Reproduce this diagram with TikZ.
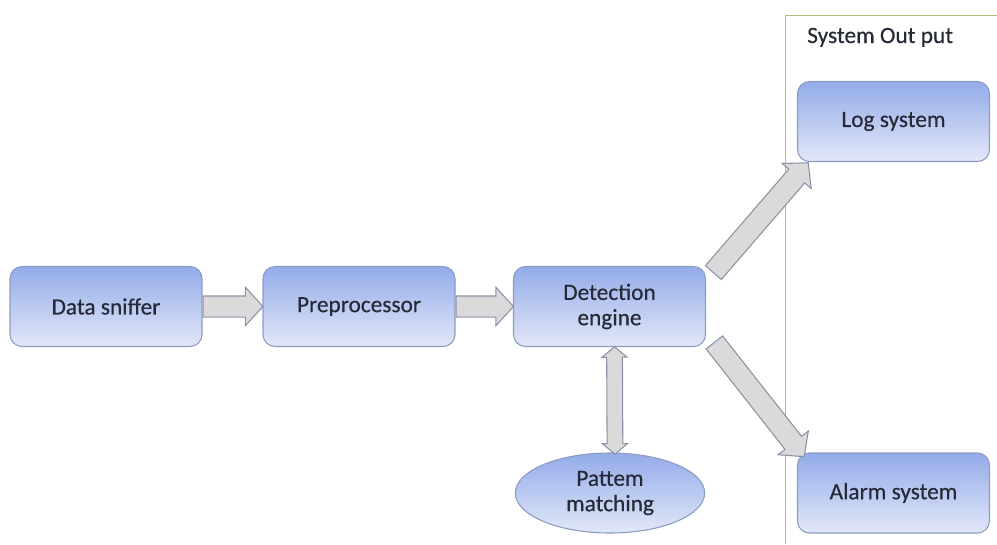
\documentclass[tikz,border=0pt]{standalone}
\usepackage{fontspec}
\setmainfont{Carlito}[FakeBold=0.35]
\usetikzlibrary{shapes.geometric,shapes.arrows,calc}

\definecolor{boxtop}{HTML}{93ABE9}
\definecolor{boxbot}{HTML}{E2E8F8}
\definecolor{boxline}{HTML}{8C9BC2}
\definecolor{txt}{HTML}{262A36}
\definecolor{arrfill}{HTML}{DADADA}
\definecolor{arrline}{HTML}{8A93A6}
\definecolor{frameline}{HTML}{AEBF80}

\tikzset{
  stagebox/.style={draw=boxline, line width=0.8pt, rounded corners=9pt,
    top color=boxtop, bottom color=boxbot, text=txt,
    minimum width=144pt, minimum height=60pt, align=center,
    font=\fontsize{17.5}{19}\selectfont},
  stageoval/.style={stagebox, ellipse, rounded corners=0pt,
    minimum width=142pt, minimum height=60pt},
  blockarr/.style={single arrow, draw=arrline, fill=arrfill, line width=0.8pt,
    inner xsep=0pt, inner ysep=#1, single arrow head extend=6.5pt,
    single arrow tip angle=95, anchor=tail},
  dblarr/.style={double arrow, draw=arrline, fill=arrfill, line width=0.8pt,
    inner xsep=0pt, inner ysep=5.5pt, double arrow head extend=3.5pt,
    double arrow tip angle=100, anchor=tip 2}
}

% block arrow from #2 to #3, body half width #1
\newcommand\blockconn[3][7.5pt]{%
  \path let \p1=(#2), \p2=(#3),
    \n1={atan2(\y2-\y1,\x2-\x1)}, \n2={veclen(\x2-\x1,\y2-\y1)} in
    node[blockarr=#1, minimum height=\n2, rotate=\n1] at (\p1) {};}
% two-headed block arrow from #1 to #2
\newcommand\dblconn[2]{%
  \path let \p1=(#1), \p2=(#2),
    \n1={atan2(\y2-\y1,\x2-\x1)}, \n2={veclen(\x2-\x1,\y2-\y1)} in
    node[dblarr, minimum height=\n2, rotate=\n1] at (\p1) {};}

\begin{document}
\begin{tikzpicture}[x=0.75pt,y=-0.75pt]
\useasboundingbox (0,0) rectangle (997,544);

% output frame
\draw[frameline, line width=0.7pt] (997,15) -- (785,15) -- (785,544);
\node[anchor=base west, text=txt, font=\fontsize{17.5}{19}\selectfont, inner sep=0pt]
  (outlabel) at (807,43) {System Out put};

% stages
\node[stagebox] (sniff) at (106,306.5) {Data sniffer};
\node[stagebox] (pre) at (359,306.5) {Preprocessor};
\node[stagebox] (det) at (609.5,306.5) {Detection\\engine};
\node[stageoval] (pat) at (610,493) {Pattem\\matching};
\node[stagebox] (log) at (893.5,121.5) {Log system};
\node[stagebox] (alarm) at (893.5,493) {Alarm system};

% helper points for the diagonal and vertical arrows
\coordinate (upA) at ($(det.north east)+(7,7)$);
\coordinate (upB) at ($(log.south west)+(11,1)$);
\coordinate (dnA) at ($(det.south east)+(8,-5)$);
\coordinate (dnB) at ($(alarm.north west)+(7,4)$);
\coordinate (vA) at ($(det.south)+(5,-1)$);
\coordinate (vB) at ($(pat.north)+(5,1)$);

% connectors
\blockconn{sniff.east}{pre.west}
\blockconn{pre.east}{det.west}
\blockconn[7.5pt]{upA}{upB}
\blockconn[7.5pt]{dnA}{dnB}
\dblconn{vA}{vB}
\end{tikzpicture}
\end{document}
